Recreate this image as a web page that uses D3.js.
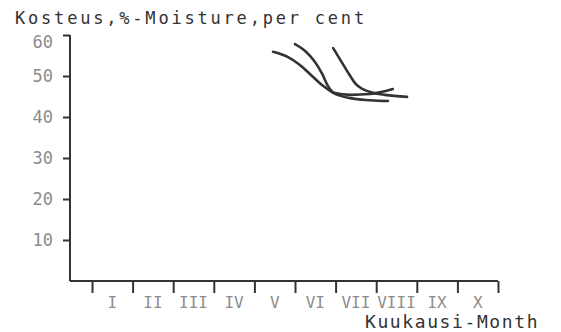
<!DOCTYPE html>
<html>
<head>
<meta charset="utf-8">
<script src="https://cdn.jsdelivr.net/npm/d3@7"></script>
<style>
  body { margin: 0; background: #fff; }
  svg { display: block; }
</style>
</head>
<body>
<div id="chart"></div>
<script>
// month position: 0 = start of January, 1 = start of February ...
const months = ["I", "II", "III", "IV", "V", "VI", "VII", "VIII", "IX", "X"];
const yTicks = [10, 20, 30, 40, 50, 60];

const seriesA = [[4.46, 55.9], [4.83, 54.6], [5.12, 52.7], [5.42, 50.0], [5.69, 47.6], [5.94, 45.9], [6.36, 44.6], [6.85, 44.1], [7.29, 43.9]];
const seriesB = [[5.00, 57.8], [5.25, 56.1], [5.47, 53.7], [5.67, 50.5], [5.81, 47.6], [5.96, 45.9], [6.36, 45.4], [6.85, 45.6], [7.41, 46.8]];
const seriesC = [[5.94, 56.8], [6.18, 52.9], [6.36, 50.0], [6.50, 48.0], [6.67, 46.8], [6.92, 45.9], [7.22, 45.4], [7.76, 44.9]];

const width = 561, height = 332;
const ink = "#333";

const svg = d3.select("#chart").append("svg")
    .attr("width", width)
    .attr("height", height)
    .style("font-family", "'DejaVu Sans Mono', monospace");

const x = d3.scaleLinear().domain([0, 10]).range([92, 498]);
const y = d3.scaleLinear().domain([0, 60]).range([281, 35]);
const xBand = d3.scaleBand().domain(months).range([92, 498]);
const axisX0 = 70;

// y axis, ticks pointing left
const yAxis = svg.append("g")
    .attr("transform", `translate(${axisX0},0)`)
    .call(d3.axisLeft(y).tickValues(yTicks).tickSize(7).tickPadding(10).tickSizeOuter(0));
yAxis.select(".domain").attr("stroke", ink).attr("stroke-width", 2)
    .attr("d", `M0,${y(60)}V${y(0)}`);
yAxis.selectAll(".tick line").attr("stroke", ink).attr("stroke-width", 2);
yAxis.selectAll(".tick text")
    .attr("fill", "#8c8c8c")
    .attr("dy", d => d === 60 ? "0.75em" : "0.32em")
    .style("font-size", "17px")
    .style("font-family", "'DejaVu Sans Mono', monospace");

// x axis line from the y axis to October's end, ticks down at month borders
svg.append("path")
    .attr("d", `M${axisX0},${y(0)}H${x(10)}`)
    .attr("stroke", ink).attr("stroke-width", 2).attr("fill", "none");

const xAxis = svg.append("g")
    .attr("transform", `translate(0,${y(0)})`)
    .call(d3.axisBottom(x).tickValues(d3.range(0, 11)).tickSize(12).tickFormat(""));
xAxis.select(".domain").remove();
xAxis.selectAll(".tick line").attr("stroke", ink).attr("stroke-width", 2);

// month labels between ticks
svg.append("g")
  .selectAll("text")
  .data(months)
  .join("text")
    .attr("x", d => xBand(d) + xBand.bandwidth() / 2)
    .attr("y", 308)
    .attr("text-anchor", "middle")
    .attr("fill", "#8c8c8c")
    .style("font-size", "16px")
    .text(d => d);

// titles
svg.append("text")
    .attr("x", 15).attr("y", 24)
    .attr("fill", ink)
    .style("font-size", "17px")
    .style("letter-spacing", "2.8px")
    .text("Kosteus,%-Moisture,per cent");

svg.append("text")
    .attr("x", 365).attr("y", 328)
    .attr("fill", ink)
    .style("font-size", "18px")
    .style("letter-spacing", "1.6px")
    .text("Kuukausi-Month");

// curves
const line = d3.line()
    .x(d => x(d[0]))
    .y(d => y(d[1]))
    .curve(d3.curveMonotoneX);

svg.append("g")
    .attr("fill", "none")
    .attr("stroke", ink)
    .attr("stroke-width", 2.6)
    .attr("stroke-linecap", "round")
  .selectAll("path")
  .data([seriesA, seriesB, seriesC])
  .join("path")
    .attr("d", line);
</script>
</body>
</html>
